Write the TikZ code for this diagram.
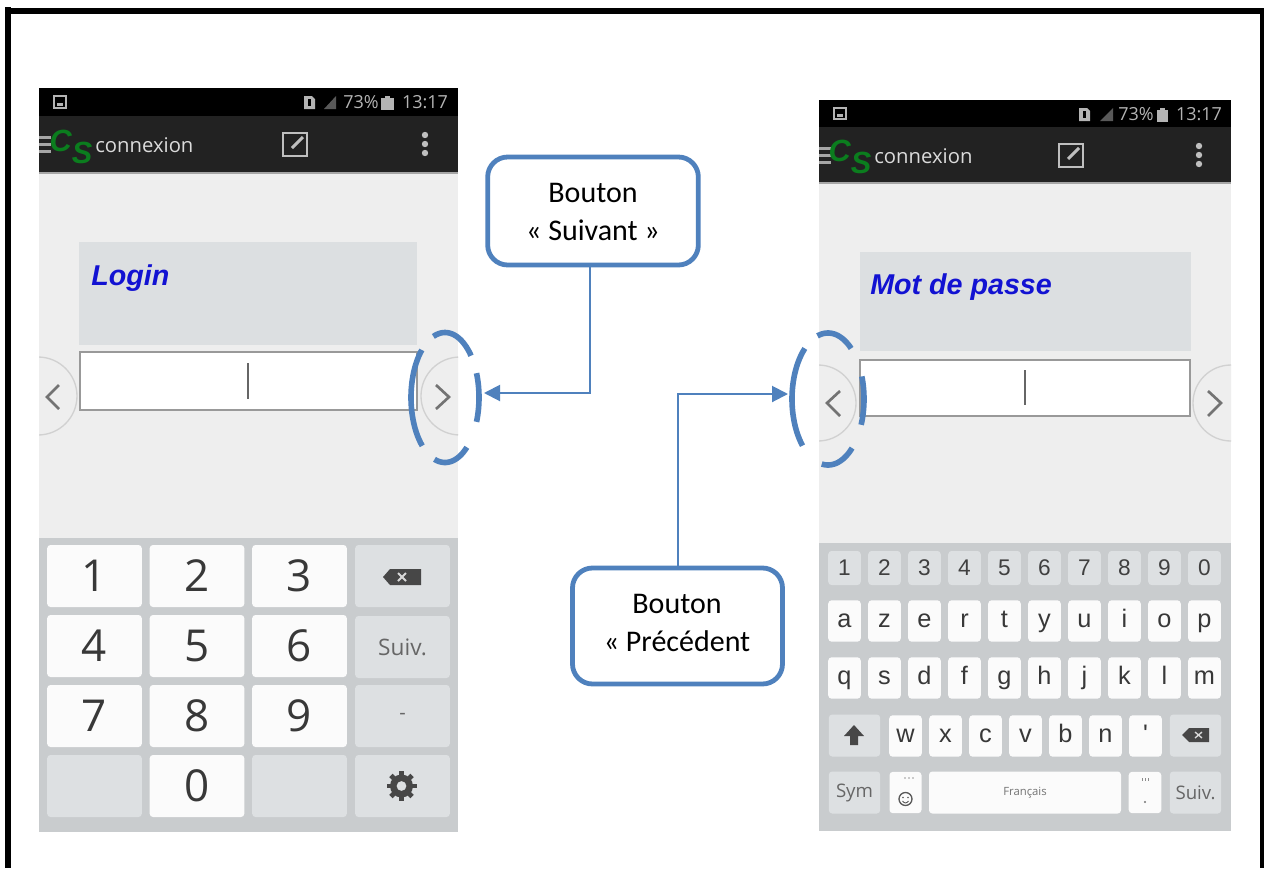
\documentclass[tikz,border=0pt]{standalone}
\usepackage{fontspec}
\setmainfont{Carlito}
\newfontfamily\uifont{Open Sans}
\newfontfamily\kbfont{Liberation Sans}
\usetikzlibrary{arrows.meta,shapes.geometric}
\definecolor{ringblue}{HTML}{4F81BD}
\definecolor{phonebg}{HTML}{EEEEEE}
\definecolor{kbbg}{HTML}{C9CCCE}
\definecolor{keygrey}{HTML}{DDE0E2}
\definecolor{keywhite}{HTML}{FBFBFB}
\definecolor{labelgrey}{HTML}{DCDFE1}
\definecolor{barblack}{HTML}{222222}
\definecolor{logogreen}{HTML}{0B7D1E}
\definecolor{titleblue}{HTML}{1212D2}
\definecolor{statusgrey}{HTML}{B4B4B4}
\tikzset{
  x=0.75pt,y=-0.75pt,
  keybase/.style={rounded corners=2.5pt,inner sep=0pt,outer sep=0pt,text=black!78,anchor=center},
  bigwhite/.style={keybase,fill=keywhite,minimum width=71pt,minimum height=46.5pt,font=\uifont\fontsize{33}{33}\selectfont},
  biggrey/.style={keybase,fill=keygrey,minimum width=71pt,minimum height=46.5pt,text=black!60},
  smallkey/.style={keybase,fill=keywhite,minimum width=24.4pt,minimum height=31pt,text height=12pt,text depth=2pt,font=\kbfont\fontsize{19}{19}\selectfont},
  numkey/.style={keybase,fill=keygrey,minimum width=24.4pt,minimum height=25.5pt,font=\kbfont\fontsize{17}{17}\selectfont,text=black!75},
  modkey/.style={keybase,fill=keygrey,minimum width=38.5pt,minimum height=31.5pt,text=black!60},
  callout/.style={draw=ringblue,line width=3.6pt,rounded corners=15pt,fill=white,inner sep=0pt,
    minimum width=157pt,minimum height=84pt},
  callouttext/.style={align=center,inner sep=0pt,font=\fontsize{22.5}{28.5}\selectfont,text=black},
  pointer/.style={draw=ringblue,line width=1.5pt,-{Triangle[length=12pt,width=12pt]}},
  ringline/.style={draw=ringblue,line width=4.2pt,line cap=butt},
  ringbox/.style={ellipse,inner sep=0pt,outer sep=0pt},
  navcircle/.style={draw=black!18,line width=1pt,fill=phonebg},
  chevron/.style={draw=black!55,line width=2pt,line join=miter},
  statustext/.style={text=statusgrey,inner sep=0pt,font=\uifont\fontsize{13.5}{14}\selectfont},
  apptitle/.style={text=black!14,inner sep=0pt,anchor=west,font=\uifont\fontsize{15.2}{16}\selectfont},
  logotext/.style={text=logogreen,inner sep=0pt,font=\kbfont\bfseries\itshape\fontsize{23}{23}\selectfont},
  fieldtitle/.style={text=titleblue,inner sep=0pt,anchor=west,font=\kbfont\bfseries\itshape\fontsize{21.5}{22}\selectfont},
}
\begin{document}
\begin{tikzpicture}
\useasboundingbox (0,0) rectangle (1264,868);
\fill[white] (0,0) rectangle (1264,868);
% outer frame (open at the bottom)
\fill[black] (5,7) rectangle (11,868);
\fill[black] (5,8) rectangle (1264,14);
\fill[black] (1260,8) rectangle (1264,868);

% ---------- left phone ----------
\fill[phonebg] (39,172) rectangle (458,538);
\begin{scope}
\clip (39,172) rectangle (458,538);
\draw[navcircle] (38,396) circle (39);
\draw[navcircle] (460,396) circle (39);
\end{scope}
\fill[black] (39,88) rectangle (458,116);
\fill[barblack] (39,116) rectangle (458,172);
\fill[black!35] (39,172) rectangle (458,173.5);
\fill[kbbg] (39,538) rectangle (458,832);
% status bar
\draw[statusgrey,line width=1.2pt] (54,96) rectangle (66,108);
\fill[statusgrey] (57,103) rectangle (63,106);
\fill[statusgrey] (304,96) -- (312,96) -- (315,99) -- (315,109) -- (304,109) -- cycle;
\fill[black] (308,99) rectangle (311,106);
\fill[black!65!white] (324,109) -- (336,96) -- (336,109) -- cycle;
\node[statustext] (lpct) at (361,102) {73\%};
\fill[statusgrey] (381,98) rectangle (394,110);
\fill[statusgrey] (385,96) rectangle (390,98);
\node[statustext] (ltime) at (425,102) {13:17};
% app bar
\foreach \yy in {137,144,151} \fill[black!35!white] (39,\yy-1.5) rectangle (51,\yy+1.5);
\node[logotext] (llogo) at (71,147) {C\raisebox{-9pt}{S}};
\node[apptitle] (ltitle) at (95,145) {connexion};
\draw[black!25,line width=2pt] (283,133) rectangle (307,156);
\draw[black!25,line width=2.2pt] (292,148) -- (303,137);
\foreach \yy in {135,144,153} \fill[black!25] (425,\yy) circle (3.2);
% field
\fill[labelgrey] (79,242) rectangle (417,345);
\node[fieldtitle] (ltt) at (91,278) {Login};
\draw[fill=white,draw=black!40,line width=1pt] (80,352) rectangle (417,410);
\draw[black!60,line width=1.8pt] (248,363) -- (248,399);
\draw[chevron] (59,385) -- (47,397) -- (59,409);
\draw[chevron] (436,385) -- (449,397) -- (436,409);
% numeric keyboard
\foreach \kx/\ky/\kt in {94.5/576/1,197/576/2,299.5/576/3,94.5/646/4,197/646/5,299.5/646/6,94.5/716/7,197/716/8,299.5/716/9,197/786/0}
  \node[bigwhite] (lk\kt) at (\kx,\ky) {\kt};
\node[biggrey] (lkempa) at (94.5,786) {};
\node[biggrey] (lkempb) at (299.5,786) {};
\node[biggrey] (lkback) at (402.5,576) {};
\fill[black!72] (383,577) -- (390,569) -- (421,569) -- (421,585) -- (390,585) -- cycle;
\draw[white!85!black,line width=1.4pt] (398,573) -- (406,581) (406,573) -- (398,581);
\node[biggrey,font=\uifont\fontsize{17}{17}\selectfont] (lksuiv) at (402.5,647) {Suiv.};
\node[biggrey,font=\uifont\fontsize{15}{16}\selectfont] (lkdash) at (402.5,716) {-};
\node[biggrey] (lkgear) at (402.5,786) {};
\fill[black!72,even odd rule] (401.5,786) circle (11.5) (401.5,786) circle (5);
\foreach \aa in {0,45,...,315}
  \draw[black!72,line width=3.6pt,shift={(401.5,786)}] (\aa:9) -- (\aa:15);

% ---------- right phone ----------
\fill[phonebg] (819,182) rectangle (1231,543);
\begin{scope}
\clip (819,182) rectangle (1231,543);
\draw[navcircle] (818,403) circle (38);
\draw[navcircle] (1231,403) circle (38);
\end{scope}
\fill[black] (819,100) rectangle (1231,127);
\fill[barblack] (819,127) rectangle (1231,182);
\fill[black!35] (819,182) rectangle (1231,183.5);
\fill[kbbg] (819,543) rectangle (1231,831);
% status bar
\draw[statusgrey,line width=1.2pt] (834,108) rectangle (846,119);
\fill[statusgrey] (837,114) rectangle (843,117);
\fill[statusgrey] (1079,108) -- (1087,108) -- (1090,111) -- (1090,121) -- (1079,121) -- cycle;
\fill[black] (1083,111) rectangle (1086,118);
\fill[black!65!white] (1100,121) -- (1113,108) -- (1113,121) -- cycle;
\node[statustext] (rpct) at (1136,114) {73\%};
\fill[statusgrey] (1157,110) rectangle (1168,122);
\fill[statusgrey] (1160,108) rectangle (1165,110);
\node[statustext] (rtime) at (1199,114) {13:17};
% app bar
\foreach \yy in {148,155,162} \fill[black!35!white] (819,\yy-1.5) rectangle (831,\yy+1.5);
\node[logotext] (rlogo) at (850,157) {C\raisebox{-9pt}{S}};
\node[apptitle] (rtitle) at (874,156) {connexion};
\draw[black!25,line width=2pt] (1059,144) rectangle (1083,167);
\draw[black!25,line width=2.2pt] (1068,159) -- (1079,148);
\foreach \yy in {146,155,164} \fill[black!25] (1199,\yy) circle (3.2);
% field
\fill[labelgrey] (860,252) rectangle (1191,351);
\node[fieldtitle] (rtt) at (870,287) {Mot de passe};
\draw[fill=white,draw=black!40,line width=1pt] (860,360) rectangle (1190,416);
\draw[black!60,line width=1.8pt] (1025,370) -- (1025,405);
\draw[chevron] (840,391) -- (827,403) -- (840,416);
\draw[chevron] (1208,391) -- (1221,403) -- (1208,416);
% AZERTY keyboard
\foreach \kx/\kt in {844.5/1,884.5/2,924.5/3,964.5/4,1004.5/5,1044.5/6,1084.5/7,1124.5/8,1164.5/9,1204.5/0}
  \node[numkey] (rn\kt) at (\kx,568) {\kt};
\foreach \kx/\kt in {844.5/a,884.5/z,924.5/e,964.5/r,1004.5/t,1044.5/y,1084.5/u,1124.5/i,1164.5/o,1204.5/p}
  \node[smallkey] (ra\kt) at (\kx,621) {\kt};
\foreach \kx/\kt in {844.5/q,884.5/s,924.5/d,964.5/f,1004.5/g,1044.5/h,1084.5/j,1124.5/k,1164.5/l,1204.5/m}
  \node[smallkey] (rq\kt) at (\kx,678) {\kt};
\foreach \kx/\kt in {905.5/w,945.5/x,985.5/c,1025.5/v,1065.5/b,1105.5/n}
  \node[smallkey] (rw\kt) at (\kx,736) {\kt};
\node[smallkey] (rwapos) at (1145.5,736) {'};
\node[modkey] (rshift) at (854.5,735.5) {};
\fill[black!72] (854,725) -- (864,736) -- (858,736) -- (858,745) -- (850,745) -- (850,736) -- (844,736) -- cycle;
\node[modkey] (rback) at (1195.5,735.5) {};
\fill[black!72] (1182,735) -- (1189,728) -- (1209,728) -- (1209,742) -- (1189,742) -- cycle;
\draw[white!85!black,line width=1pt] (1195,732) -- (1202,738) (1202,732) -- (1195,738);
\node[modkey,font=\uifont\fontsize{14}{14}\selectfont] (rsym) at (854.5,792.5) {Sym};
\node[smallkey,minimum width=24pt] (remoji) at (905.5,792.5) {};
\draw[black!65,line width=1pt] (905.5,799) circle (6.5);
\fill[black!65] (903,797.5) circle (0.8) (908,797.5) circle (0.8);
\draw[black!65,line width=0.7pt] (902.5,801) .. controls (904,803.5) and (907,803.5) .. (908.5,801);
\fill[black!40] (905,778) circle (0.8) (909,778) circle (0.8) (913,778) circle (0.8);
\node[keybase,fill=keywhite,minimum width=144pt,minimum height=31.5pt,font=\uifont\fontsize{8.5}{9}\selectfont,text=black!55] (rspace) at (1025,792.5) {Français};
\node[smallkey] (rdot) at (1145,792.5) {};
\fill[black!55] (1145,802) circle (1.2);
\draw[black!45,line width=0.7pt] (1142,778) -- (1142,781) (1145,778) -- (1145,781) (1148,778) -- (1148,781);
\node[modkey,font=\uifont\fontsize{14}{14}\selectfont] (rsuiv) at (1195.5,792.5) {Suiv.};

% ---------- dashed rings ----------
\node[ringbox,minimum width=51pt,minimum height=98pt] (ringnext) at (445,397.5) {};
\foreach \aa/\bb in {110/40,22/-22,-50/-108,133/228}
  \draw[ringline,shift={(445,397.5)}] plot[domain=\aa:\bb,samples=25,smooth] ({34*cos(\x)},{-65*sin(\x)});
\node[ringbox,minimum width=54pt,minimum height=99pt] (ringprev) at (828,399) {};
\foreach \aa/\bb in {107/50,20/-23,-48/-100,130/225}
  \draw[ringline,shift={(828,399)}] plot[domain=\aa:\bb,samples=25,smooth] ({36*cos(\x)},{-66*sin(\x)});

% ---------- callouts ----------
\node[callout,minimum width=158pt,minimum height=81pt] (boxnext) at (593,211) {};
\node[callouttext] (boxnexttext) at (593,212) {Bouton\\« Suivant »};
\node[callout,minimum width=157.5pt,minimum height=87pt] (boxprev) at (677.5,626) {};
\node[callouttext] (boxprevtext) at (677,623) {Bouton\\« Précédent};
\coordinate (tipnext) at (484,393);
\coordinate (tipprev) at (788,394);
\coordinate (nextstart) at (590,267);
\coordinate (prevstart) at (678,566);
\draw[pointer] (nextstart) |- (tipnext);
\draw[pointer] (prevstart) |- (tipprev);
\end{tikzpicture}
\end{document}
